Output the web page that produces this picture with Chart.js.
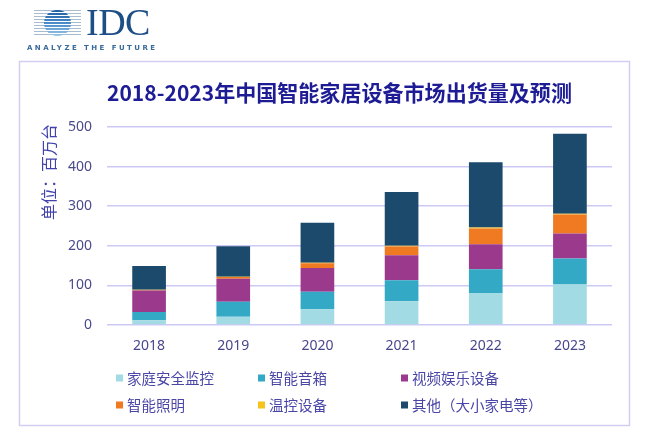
<!DOCTYPE html>
<html>
<head>
<meta charset="utf-8">
<script src="https://cdn.jsdelivr.net/npm/chart.js@4"></script>
<style>
html,body{margin:0;padding:0;background:#fff;width:650px;height:435px;overflow:hidden;}
#c{position:absolute;left:0;top:0;}
.logo-lines{position:absolute;left:34px;top:10px;width:47px;height:26px;
  background:repeating-linear-gradient(to bottom,#a9bccf 0 1px,transparent 1px 3px);}
.logo-globe{position:absolute;left:44px;top:10px;width:27px;height:26px;border-radius:50%;
  background-image:repeating-linear-gradient(to bottom,transparent 0 2px,#ffffff 2px 3px),
  linear-gradient(to bottom,#1c5aa0,#4f8fcc 55%,#9cc6e8);}
.logo-idc{position:absolute;left:86px;top:3px;font-family:"Liberation Serif","DejaVu Serif",serif;
  font-size:38px;line-height:38px;color:#1e4e86;letter-spacing:-0.5px;}
.logo-tag{position:absolute;left:27px;top:44px;font-family:"DejaVu Sans",sans-serif;font-weight:bold;
  font-size:7px;line-height:9px;letter-spacing:2.45px;color:#3a6a9a;white-space:nowrap;}
</style>
</head>
<body>
<canvas id="c" width="650" height="435"></canvas>
<div class="logo-lines"></div>
<div class="logo-globe"></div>
<div class="logo-idc">IDC</div>
<div class="logo-tag">ANALYZE THE FUTURE</div>
<script>
// ---- data ----
const titleText = "2018-2023年中国智能家居设备市场出货量及预测";
const yAxisTitle = "单位：百万台";
const years = ["2018", "2019", "2020", "2021", "2022", "2023"];
const seriesNames = ["家庭安全监控", "智能音箱", "视频娱乐设备", "智能照明", "温控设备", "其他（大小家电等）"];
const homeSecurity = [12, 21, 40, 60, 81, 102];
const smartSpeaker = [21, 38, 44, 53, 60, 66];
const videoEntertainment = [54, 58, 60, 63, 63, 63];
const smartLighting = [1.5, 4, 12, 22, 40, 48];
const thermostat = [0.5, 1, 1, 2, 2, 2];
const others = [60, 77, 101, 136, 165, 202];
const yTicks = [0, 100, 200, 300, 400, 500];

const seriesValues = [homeSecurity, smartSpeaker, videoEntertainment, smartLighting, thermostat, others];
const seriesColors = ["#a3dbe4", "#34a9c5", "#9b3a8d", "#f07a22", "#f6c21c", "#1b4a6d"];

const framePlugin = {
  id: 'frame',
  beforeDraw(chart) {
    const ctx = chart.ctx;
    ctx.save();
    ctx.strokeStyle = '#d3cff4';
    ctx.lineWidth = 1.5;
    ctx.strokeRect(19.5, 61.5, 610, 364);
    ctx.restore();
  }
};

const titlePlugin = {
  id: 'titleText',
  afterDraw(chart) {
    const ctx = chart.ctx;
    ctx.save();
    const fam = '"Noto Sans CJK SC", "Noto Sans", sans-serif';
    ctx.font = 'bold 22px ' + fam;
    const w = ctx.measureText(titleText).width;
    const size = 22 * 465 / w;
    ctx.font = 'bold ' + size.toFixed(2) + 'px ' + fam;
    ctx.fillStyle = '#1e1c95';
    ctx.textAlign = 'left';
    ctx.textBaseline = 'middle';
    ctx.fillText(titleText, 107, 93);
    // y axis unit label
    ctx.translate(49, 172);
    ctx.rotate(-Math.PI / 2);
    ctx.font = '16px "Noto Sans CJK SC", sans-serif';
    ctx.fillStyle = '#4242ad';
    ctx.textAlign = 'center';
    ctx.fillText(yAxisTitle, 0, 0);
    ctx.restore();
  }
};

const legendPlugin = {
  id: 'gridLegend',
  afterDraw(chart) {
    const ctx = chart.ctx;
    const colX = [116, 258, 401];
    const rowY = [378, 405];
    ctx.save();
    ctx.font = '14.5px "Noto Sans CJK SC", "Noto Sans", sans-serif';
    ctx.textAlign = 'left';
    ctx.textBaseline = 'middle';
    chart.data.datasets.forEach((ds, i) => {
      const x = colX[i % 3], y = rowY[Math.floor(i / 3)];
      ctx.fillStyle = ds.backgroundColor;
      ctx.fillRect(x, y - 3.5, 7, 7);
      ctx.fillStyle = '#4a46a6';
      ctx.fillText(ds.label, x + 11, y);
    });
    ctx.restore();
  }
};

new Chart(document.getElementById('c'), {
  type: 'bar',
  data: {
    labels: years,
    datasets: seriesNames.map((name, i) => ({
      label: name,
      data: seriesValues[i],
      backgroundColor: seriesColors[i],
      borderWidth: 0,
      barPercentage: 0.4,
      categoryPercentage: 1.0
    }))
  },
  options: {
    responsive: false,
    animation: false,
    devicePixelRatio: 1,
    layout: { padding: { top: 127, right: 38, left: 0, bottom: 0 } },
    plugins: { legend: { display: false }, title: { display: false }, tooltip: { enabled: false } },
    scales: {
      x: {
        stacked: true,
        grid: { display: false },
        border: { display: false },
        ticks: { color: '#47478c', font: { family: '"Noto Sans", "Open Sans", sans-serif', size: 14 }, padding: 5 },
        afterFit(scale) { scale.height = 110; }
      },
      y: {
        stacked: true,
        min: 0, max: 500,
        afterBuildTicks(scale) { scale.ticks = yTicks.map(v => ({ value: v })); },
        grid: { color: '#cdc9f5', lineWidth: 1.5, drawTicks: false },
        border: { display: false },
        ticks: { color: '#4b4b8c', font: { family: '"Noto Sans", "Open Sans", sans-serif', size: 14 }, padding: 15 },
        afterFit(scale) { scale.width = 107; }
      }
    }
  },
  plugins: [framePlugin, titlePlugin, legendPlugin]
});
</script>
</body>
</html>
